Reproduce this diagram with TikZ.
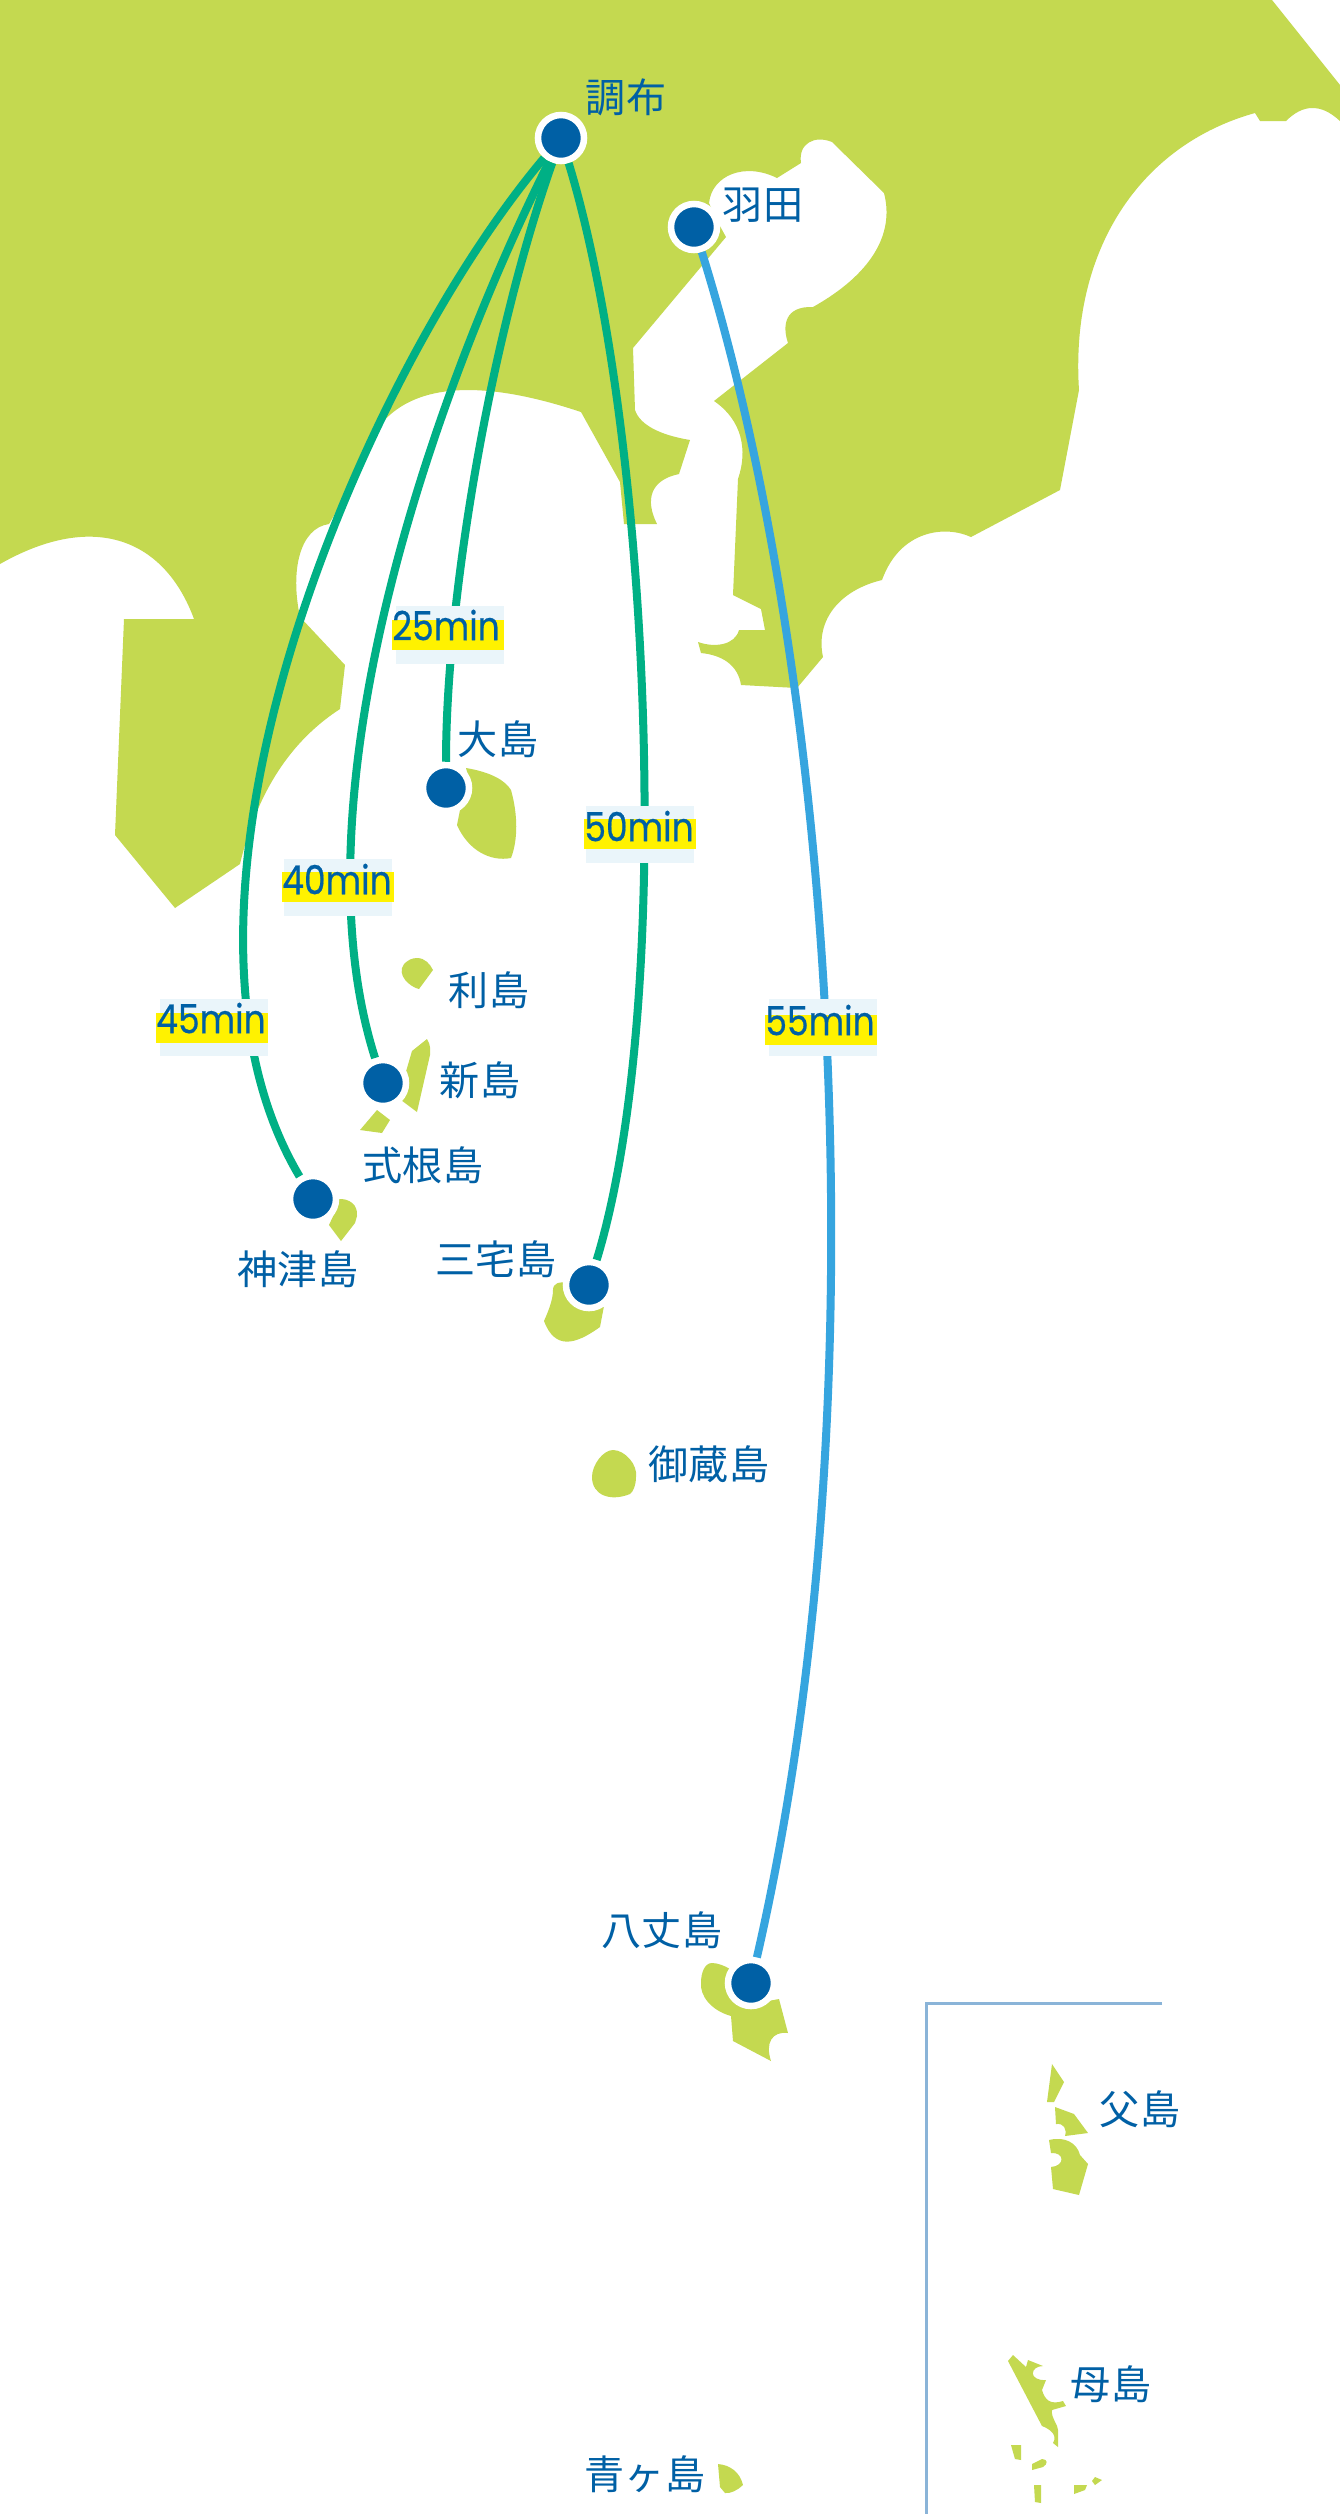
\documentclass[tikz,border=0pt]{standalone}
\usepackage{fontspec}
\newfontfamily\placefont{Noto Sans CJK JP}
\newfontfamily\timefont[FakeStretch=0.86,FakeBold=0.5]{Poppins}
\definecolor{landgreen}{HTML}{C4D950}
\definecolor{routegreen}{HTML}{00B085}
\definecolor{routeblue}{HTML}{36A5DF}
\definecolor{stopblue}{HTML}{0060A5}
\definecolor{framefill}{HTML}{EAF5FA}
\definecolor{insetline}{HTML}{8AB4D8}
\begin{document}
\begin{tikzpicture}[x=0.01cm,y=-0.01cm]
	\tikzstyle{land}=[fill=landgreen,draw=none];
	\tikzstyle{stop}=[draw=white,fill=stopblue,shape=circle,line width=0.065cm,inner sep=0,minimum size=0.46cm];
	\tikzstyle{place}=[text=stopblue,inner sep=0,font=\placefont\fontsize{11.4pt}{13pt}\selectfont];
	\tikzstyle{timebox}=[fill=framefill,inner sep=0,minimum width=1.08cm,minimum height=0.57cm];
	\tikzstyle{timebar}=[fill=yellow,inner sep=0,minimum width=1.11cm,minimum height=0.295cm];
	\tikzstyle{timetext}=[text=stopblue,inner sep=0,font=\timefont\fontsize{11.4pt}{13pt}\selectfont];
	\tikzstyle{greenroute}=[draw=routegreen,line width=0.08cm];
	\tikzstyle{blueroute}=[draw=routeblue,line width=0.08cm];
	\useasboundingbox (0,0) rectangle (1340,2514);
	\fill[white] (0,0) rectangle (1340,2514);

	\path[land] (0,0) -- (1272,0) -- (1340,85) -- (1340,121)
		.. controls (1330,112) and (1322,108) .. (1312,108)
		.. controls (1303,108) and (1294,113) .. (1286,121)
		-- (1260,121) -- (1255,113)
		.. controls (1140,145) and (1070,250) .. (1079,390)
		-- (1060,490) -- (971,537)
		.. controls (945,525) and (900,530) .. (882,580)
		.. controls (840,590) and (815,620) .. (823,657)
		-- (797,688) -- (741,685)
		.. controls (738,665) and (722,655) .. (701,653)
		-- (698,642)
		.. controls (715,648) and (735,645) .. (739,630)
		-- (765,630) -- (761,609) -- (733,595) -- (738,479)
		.. controls (748,450) and (742,420) .. (714,401)
		-- (788,343)
		.. controls (782,325) and (785,306) .. (813,307)
		.. controls (870,275) and (895,235) .. (884,193)
		-- (832,142)
		.. controls (815,135) and (798,143) .. (801,163)
		-- (777,178)
		.. controls (745,162) and (712,175) .. (709,203)
		-- (715,217) -- (726,237) -- (633,348) -- (635,410)
		.. controls (640,425) and (660,435) .. (690,440)
		-- (679,474)
		.. controls (650,480) and (645,500) .. (657,524)
		-- (624,524) -- (620,482) -- (581,412)
		.. controls (470,375) and (400,385) .. (370,440)
		-- (345,497) -- (329,524)
		.. controls (300,528) and (290,570) .. (300,617)
		-- (345,665) -- (340,709)
		.. controls (300,735) and (260,780) .. (240,864)
		-- (175,908) -- (115,835) -- (124,619) -- (194,619)
		.. controls (165,540) and (95,510) .. (0,564) -- cycle;

	\path[land] (466,768) .. controls (490,772) and (505,780) .. (511,790)
		.. controls (518,815) and (518,840) .. (511,858)
		.. controls (490,862) and (468,850) .. (457,825)
		-- (461,805) .. controls (470,795) and (470,780) .. (466,768) -- cycle;
	\path[land] (417,958) .. controls (425,958) and (430,964) .. (433,970)
		-- (419,989) .. controls (410,987) and (396,975) .. (404,964)
		.. controls (408,960) and (412,958) .. (417,958) -- cycle;
	\path[land] (427,1039) .. controls (431,1045) and (430,1050) .. (430,1055)
		-- (417,1112) -- (401,1100) .. controls (407,1092) and (408,1085) .. (405,1075)
		-- (412,1051) -- cycle;
	\path[land] (377,1110) -- (390,1120) -- (382,1133) -- (360,1130) -- cycle;
	\path[land] (337,1199) .. controls (350,1198) and (358,1205) .. (357,1216)
		-- (355,1223) -- (341,1241) -- (329,1225) -- (336,1210) -- cycle;
	\path[land] (553,1290) .. controls (553,1283) and (560,1281) .. (567,1283)
		.. controls (566,1295) and (575,1308) .. (604,1306)
		-- (600,1327) .. controls (575,1345) and (555,1350) .. (544,1321)
		.. controls (548,1312) and (553,1300) .. (553,1290) -- cycle;
	\path[land] (613,1450) .. controls (625,1450) and (638,1465) .. (636,1477)
		.. controls (636,1485) and (633,1492) .. (630,1494)
		.. controls (610,1502) and (592,1495) .. (592,1477)
		.. controls (592,1465) and (603,1450) .. (613,1450) -- cycle;
	\path[land] (712,1963) .. controls (718,1963) and (725,1966) .. (730,1969)
		.. controls (722,1985) and (730,2012) .. (763,2002)
		-- (779,1999) -- (788,2033)
		.. controls (772,2031) and (765,2043) .. (771,2061)
		-- (733,2041) -- (731,2016)
		.. controls (710,2010) and (700,1995) .. (701,1983)
		.. controls (701,1972) and (705,1963) .. (712,1963) -- cycle;
	\path[land] (718,2464) .. controls (730,2465) and (740,2472) .. (743,2485)
		.. controls (738,2490) and (730,2494) .. (725,2493)
		-- (720,2487) -- cycle;
	\path[land] (1052,2064) -- (1064,2082) -- (1054,2102) -- (1047,2102) -- cycle;
	\path[land] (1055,2107) -- (1074,2114) -- (1088,2133) -- (1065,2136)
		.. controls (1067,2129) and (1064,2123) .. (1056,2124) -- cycle;
	\path[land] (1049,2140) .. controls (1065,2136) and (1077,2143) .. (1080,2155)
		-- (1088,2164) -- (1079,2195) -- (1053,2189) -- (1051,2167)
		.. controls (1065,2166) and (1065,2152) .. (1051,2153) -- cycle;
	\path[land] (1013,2355) -- (1026,2367) -- (1028,2360) -- (1043,2366)
		.. controls (1030,2366) and (1028,2381) .. (1046,2380)
		-- (1042,2390) .. controls (1045,2400) and (1050,2405) .. (1063,2401)
		-- (1066,2406) -- (1052,2410) .. controls (1051,2419) and (1058,2424) .. (1058,2430)
		-- (1058,2447) -- (1053,2443) .. controls (1058,2435) and (1050,2429) .. (1042,2426)
		-- (1008,2361) -- cycle;
	\path[land] (1011,2445) -- (1021,2445) -- (1021,2460) -- (1015,2459) -- cycle;
	\path[land] (1032,2464) -- (1042,2459) .. controls (1048,2459) and (1048,2464) .. (1043,2467)
		-- (1032,2470) -- cycle;
	\path[land] (1034,2485) -- (1041,2485) -- (1041,2503) -- (1035,2502) -- cycle;
	\path[land] (1074,2485) -- (1087,2485) -- (1085,2490) -- (1074,2494) -- cycle;
	\path[land] (1095,2477) -- (1102,2480) -- (1095,2485) -- (1092,2481) -- cycle;

	\coordinate (insettop) at (926,2003);
	\coordinate (insetright) at (1162,2003);
	\coordinate (insetbottom) at (926,2514);
	\draw[insetline,line width=0.03cm] (insetright) -- (insettop) -- (insetbottom);

	\node[stop] (chofu) at (561,138) {};
	\node[stop] (haneda) at (694,227) {};
	\node[stop] (oshima) at (446,788) {};
	\node[stop] (niijima) at (383,1083) {};
	\node[stop] (kozushima) at (313,1199) {};
	\node[stop] (miyakejima) at (589,1285) {};
	\node[stop] (hachijojima) at (751,1983) {};

	\draw[greenroute] (chofu) .. controls (490,340) and (446,600) .. (oshima);
	\draw[greenroute] (chofu) .. controls (430,400) and (293,800) .. (niijima);
	\draw[greenroute] (chofu) .. controls (365,370) and (135,900) .. (kozushima);
	\draw[greenroute] (chofu) .. controls (650,430) and (676,1000) .. (miyakejima);
	\draw[blueroute] (haneda) .. controls (835,680) and (885,1400) .. (hachijojima);

	\node[timebox] (box25) at (450,635) {};
	\node[timebar] (bar25) at (448,635) {};
	\node[timetext] (time25) at (446,625) {25min};
	\node[timebox] (box40) at (338,887) {};
	\node[timebar] (bar40) at (338,887) {};
	\node[timetext] (time40) at (337,879) {40min};
	\node[timebox] (box50) at (640,834) {};
	\node[timebar] (bar50) at (640,834) {};
	\node[timetext] (time50) at (639,826) {50min};
	\node[timebox] (box45) at (214,1027) {};
	\node[timebar] (bar45) at (212,1028) {};
	\node[timetext] (time45) at (211,1018) {45min};
	\node[timebox] (box55) at (823,1027) {};
	\node[timebar] (bar55) at (821,1030) {};
	\node[timetext] (time55) at (820,1020) {55min};

	\node[place] (chofulabel) at (626,97) {調布};
	\node[place] (hanedalabel) at (763,205) {羽田};
	\node[place] (oshimalabel) at (498,739) {大島};
	\node[place] (toshimalabel) at (489,990) {利島};
	\node[place] (niijimalabel) at (480,1080) {新島};
	\node[place] (shikinelabel) at (423,1165) {式根島};
	\node[place] (kozulabel) at (298,1269) {神津島};
	\node[place] (miyakelabel) at (496,1259) {三宅島};
	\node[place] (mikuralabel) at (709,1464) {御蔵島};
	\node[place] (hachijolabel) at (662,1930) {八丈島};
	\node[place] (aogalabel) at (645,2474) {青ヶ島};
	\node[place] (chichilabel) at (1140,2109) {父島};
	\node[place] (hahalabel) at (1111,2384) {母島};
\end{tikzpicture}
\end{document}
